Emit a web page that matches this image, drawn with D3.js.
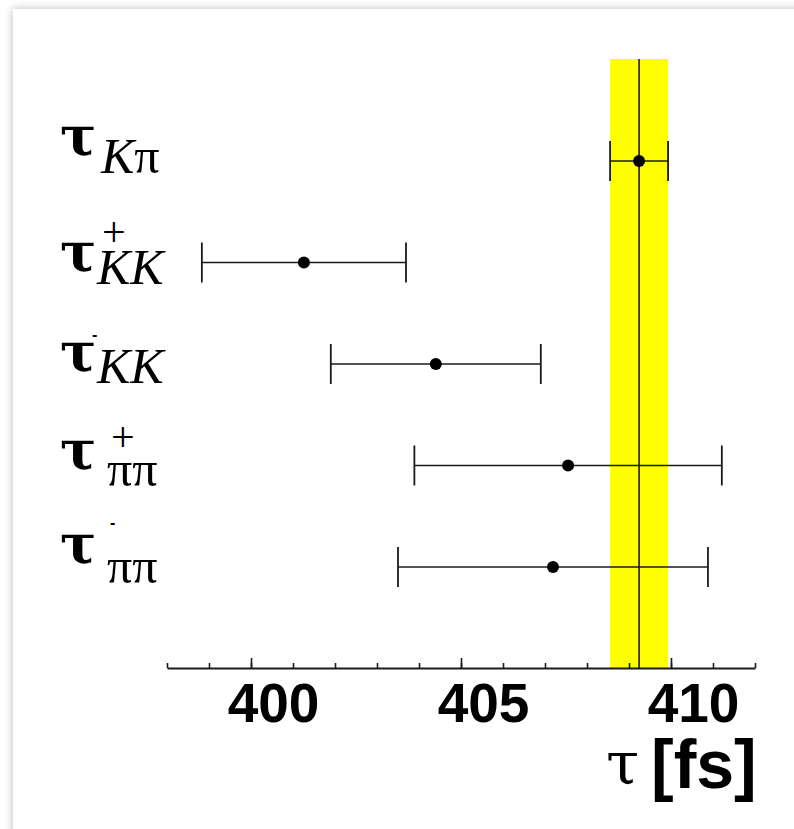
<!DOCTYPE html>
<html>
<head>
<meta charset="utf-8">
<script src="https://cdn.jsdelivr.net/npm/d3@7"></script>
<style>
  body { margin: 0; background: #fff; }
  svg { display: block; }
</style>
</head>
<body>
<div id="chart"></div>
<script>
// lifetime measurements, one row each
const channels   = ["Kpi", "KKplus", "KKminus", "pipiplus", "pipiminus"];
const subLabels  = [["K", "π"], ["K", "K"], ["K", "K"], ["π", "π"], ["π", "π"]];
const supLabels  = ["", "+", "-", "+", "-"];
const tauValues  = [409.24, 401.26, 404.40, 407.55, 407.19];
const tauErrors  = [0.69, 2.43, 2.50, 3.66, 3.69];

// reference band (K pi result)
const bandCenter = 409.24;
const bandError  = 0.69;

const xDomain    = [398, 412];
const majorTicks = [400, 405, 410];
const minorTicks = d3.range(398, 413, 1);

const svgWidth = 794;
const svgHeight = 829;
const plotTop = 59;
const plotBottom = 668;

const svg = d3.select("#chart")
  .append("svg")
  .attr("width", svgWidth)
  .attr("height", svgHeight);

// soft page shadow
const defs = svg.append("defs");
const shadow = defs.append("filter")
  .attr("id", "shadow")
  .attr("x", "-5%").attr("y", "-5%")
  .attr("width", "110%").attr("height", "110%");
shadow.append("feDropShadow")
  .attr("dx", 0).attr("dy", 0)
  .attr("stdDeviation", 4)
  .attr("flood-color", "#000")
  .attr("flood-opacity", 0.28);

svg.append("rect")
  .attr("x", 13).attr("y", 9)
  .attr("width", 820).attr("height", 860)
  .attr("fill", "#fff")
  .attr("filter", "url(#shadow)");

const x = d3.scaleLinear().domain(xDomain).range([167, 755]);
const y = d3.scalePoint().domain(channels).range([161, 567]);

const ink = "#1a1a1a";

// yellow band + central line
svg.append("rect")
  .attr("x", x(bandCenter - bandError))
  .attr("y", plotTop)
  .attr("width", x(bandCenter + bandError) - x(bandCenter - bandError))
  .attr("height", plotBottom - plotTop)
  .attr("fill", "#ffff00");

svg.append("line")
  .attr("x1", x(bandCenter)).attr("x2", x(bandCenter))
  .attr("y1", plotTop).attr("y2", plotBottom)
  .attr("stroke", ink)
  .attr("stroke-width", 1.6);

// axis
const axisG = svg.append("g")
  .attr("transform", `translate(0, ${plotBottom})`);

axisG.append("g")
  .call(d3.axisBottom(x).tickValues(minorTicks).tickSize(-5).tickSizeOuter(0).tickFormat(""))
  .call(g => g.select(".domain").remove())
  .selectAll("line").attr("stroke", ink).attr("stroke-width", 1.6);

const majorAxis = axisG.append("g")
  .call(d3.axisBottom(x).tickValues(majorTicks).tickSize(-10).tickSizeOuter(0).tickFormat(d3.format("d")));

majorAxis.select(".domain").attr("stroke", ink).attr("stroke-width", 2);
majorAxis.selectAll("line").attr("stroke", ink).attr("stroke-width", 1.6);
majorAxis.selectAll("text")
  .attr("y", 54)
  .attr("dy", 0)
  .attr("dx", 22)
  .attr("fill", "#000")
  .style("font-family", "'Liberation Sans', Arial, sans-serif")
  .style("font-weight", "bold")
  .style("font-size", "55px");

// axis title
const title = svg.append("g");
title.append("text")
  .attr("x", 606).attr("y", 784)
  .style("font-family", "'DejaVu Serif', serif")
  .style("font-size", "60px")
  .text("τ");
title.append("text")
  .attr("x", 651).attr("y", 788)
  .style("font-family", "'Liberation Sans', Arial, sans-serif")
  .style("font-weight", "bold")
  .style("font-size", "68px")
  .text("[fs]");

// error bars
const rows = channels.map((c, i) => ({
  channel: c, value: tauValues[i], err: tauErrors[i],
  sub: subLabels[i], sup: supLabels[i], i: i
}));

const bars = svg.append("g").selectAll("g")
  .data(rows).enter()
  .append("g");

bars.append("line")
  .attr("x1", d => x(d.value - d.err))
  .attr("x2", d => x(d.value + d.err))
  .attr("y1", d => y(d.channel))
  .attr("y2", d => y(d.channel))
  .attr("stroke", ink)
  .attr("stroke-width", 1.6);

[-1, 1].forEach(side => {
  bars.append("line")
    .attr("x1", d => x(d.value + side * d.err))
    .attr("x2", d => x(d.value + side * d.err))
    .attr("y1", d => y(d.channel) - 20)
    .attr("y2", d => y(d.channel) + 20)
    .attr("stroke", ink)
    .attr("stroke-width", 1.8);
});

bars.append("circle")
  .attr("cx", d => x(d.value))
  .attr("cy", d => y(d.channel))
  .attr("r", 6)
  .attr("fill", "#000");

// row labels: tau + subscript + superscript
// per-row nudges (tau baseline, sub baseline, sub x, sup baseline, sup x)
const labelNudge = [
  { tau: -6, sub: 12, subX: 101, sup: 0,   supX: 0 },
  { tau: 8,  sub: 21, subX: 97,  sup: -17, supX: 102 },
  { tau: 7,  sub: 19, subX: 97,  sup: -24, supX: 92 },
  { tau: 3,  sub: 20, subX: 107, sup: -15, supX: 111 },
  { tau: -4, sub: 16, subX: 107, sup: -39, supX: 110 }
];

const labels = svg.append("g").selectAll("g")
  .data(rows).enter()
  .append("g");

labels.append("text")
  .attr("x", 60)
  .attr("y", d => y(d.channel) + labelNudge[d.i].tau)
  .style("font-family", "'DejaVu Serif', serif")
  .style("font-weight", "bold")
  .style("font-size", "54px")
  .text("τ");

const subText = labels.append("text")
  .attr("x", d => labelNudge[d.i].subX)
  .attr("y", d => y(d.channel) + labelNudge[d.i].sub)
  .style("font-family", "'Liberation Serif', 'Times New Roman', serif")
  .style("font-size", "50px");

subText.selectAll("tspan")
  .data(d => d.sub).enter()
  .append("tspan")
  .style("font-style", s => s === "K" ? "italic" : "normal")
  .text(s => s);

labels.filter(d => d.sup === "+")
  .append("text")
  .attr("x", d => labelNudge[d.i].supX)
  .attr("y", d => y(d.channel) + labelNudge[d.i].sup)
  .style("font-family", "'Liberation Serif', 'Times New Roman', serif")
  .style("font-size", "42px")
  .text("+");

labels.filter(d => d.sup === "-")
  .append("text")
  .attr("x", d => labelNudge[d.i].supX)
  .attr("y", d => y(d.channel) + labelNudge[d.i].sup)
  .style("font-family", "'Liberation Sans', Arial, sans-serif")
  .style("font-weight", "bold")
  .style("font-size", "16px")
  .text("-");
</script>
</body>
</html>
